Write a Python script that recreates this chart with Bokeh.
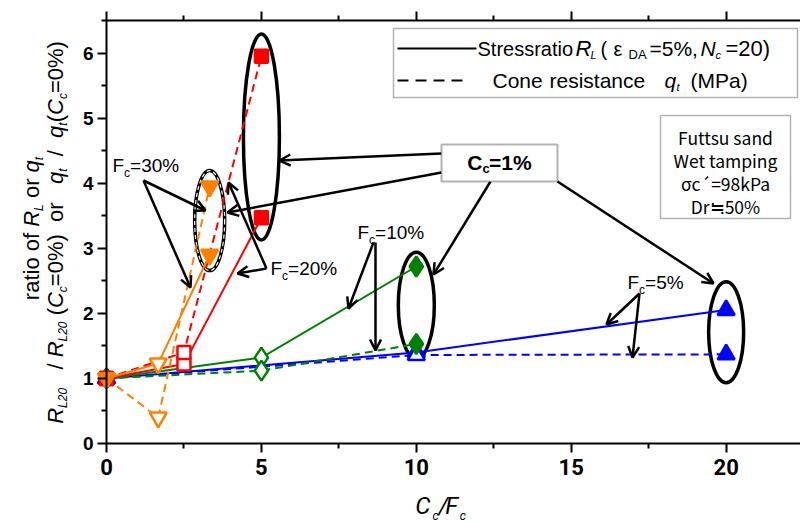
import math
from bokeh.plotting import figure
from bokeh.models import (Label, Arrow, OpenHead, Range1d, LinearAxis, FixedTicker, BoxAnnotation,
                          ColumnDataSource, CustomJSTickFormatter)
from bokeh.embed import file_html
from bokeh.resources import INLINE

# ---------------- data ----------------
series_names = ["Fc=5%", "Fc=10%", "Fc=20%", "Fc=30%"]
# x = Cc/Fc ; points at Cc = 0, 0.5 %, 1 %
x_fc5 = [0, 10, 20]
rl_fc5 = [1.0, 1.40, 2.05]
qt_fc5 = [1.0, 1.36, 1.37]

x_fc10 = [0, 5, 10]
rl_fc10 = [1.0, 1.32, 2.72]
qt_fc10 = [1.0, 1.12, 1.53]

x_fc20 = [0, 2.5, 5]
rl_fc20 = [1.0, 1.22, 3.47]
qt_fc20 = [1.0, 1.40, 5.95]

x_fc30 = [0, 1.67, 3.33]
rl_fc30 = [1.0, 1.23, 2.90]
qt_fc30 = [1.0, 0.40, 3.95]

x_ticks = [0, 5, 10, 15, 20]
x_minor = [2.5, 7.5, 12.5, 17.5, 22.5]
y_ticks = [0, 1, 2, 3, 4, 5, 6]
y_minor = [0.5, 1.5, 2.5, 3.5, 4.5, 5.5, 6.5]
X_MAX, Y_MAX = 22.4, 6.5

# ---------------- geometry: page px <-> data ----------------
W, H = 800, 522
OX, OY, SX, SY = 106, 443, 694 / 22.4, 423 / 6.5   # origin px and px per unit


def X(px):
    return (px - OX) / SX


def Y(py):
    return (OY - py) / SY


p = figure(frame_width=W, frame_height=H, min_border=0,
           x_range=Range1d(X(0), X(W)), y_range=Range1d(Y(H), Y(0)),
           output_backend="svg", toolbar_location=None)
p.outline_line_color = None
p.xgrid.visible = False
p.ygrid.visible = False
p.background_fill_color = "white"
p.border_fill_color = "white"


def style_axis(ax):
    ax.axis_line_width = 2
    ax.axis_line_color = "black"
    ax.major_tick_line_width = 2
    ax.minor_tick_line_width = 2
    ax.major_tick_in = 0
    ax.major_tick_out = 9
    ax.minor_tick_in = 0
    ax.minor_tick_out = 5
    ax.major_label_text_color = "black"


xa, ya = p.xaxis[0], p.yaxis[0]
style_axis(xa)
style_axis(ya)
xa.fixed_location = 0
xa.bounds = (0, X_MAX)
ya.fixed_location = 0
ya.bounds = (0, Y_MAX)
xa.ticker = FixedTicker(ticks=x_ticks, minor_ticks=x_minor)
ya.ticker = FixedTicker(ticks=y_ticks, minor_ticks=y_minor)
xa.major_label_text_font = "Roboto"
xa.major_label_text_font_size = "22px"
xa.major_label_text_font_style = "bold"
xa.major_label_standoff = 6
ya.major_label_text_font = "Liberation Sans"
ya.major_label_text_font_size = "19px"
ya.major_label_text_font_style = "bold"
ya.major_label_standoff = 4

top = LinearAxis(ticker=FixedTicker(ticks=x_ticks, minor_ticks=x_minor),
                 fixed_location=Y_MAX, bounds=(0, X_MAX),
                 formatter=CustomJSTickFormatter(code="return ''"))
style_axis(top)
top.major_label_standoff = 0
p.add_layout(top, "above")

# ---------------- text helper (y given = visual middle of the text) ----------------
AW = {' ': 278, 'a': 556, 'b': 556, 'c': 500, 'd': 556, 'e': 556, 'f': 278, 'g': 556, 'h': 556,
      'i': 222, 'j': 222, 'k': 500, 'l': 222, 'm': 833, 'n': 556, 'o': 556, 'p': 556, 'q': 556,
      'r': 333, 's': 500, 't': 278, 'u': 556, 'v': 500, 'w': 722, 'x': 500, 'y': 500, 'z': 500,
      'A': 667, 'C': 722, 'D': 722, 'F': 611, 'L': 556, 'M': 833, 'N': 722, 'P': 667, 'R': 722,
      'S': 667, 'W': 944, '%': 889, '=': 584, '(': 333, ')': 333, '/': 278, ',': 278, '.': 278,
      'ε': 460}


def tw(s, size):
    return sum(AW.get(ch, 556) for ch in s) * size / 1000.0


def rich(segs, x_px, y_px, angle=0.0, font="Liberation Sans", align="left", color="black"):
    total = sum(tw(sg[0], sg[1]) for sg in segs)
    pos = -total / 2 if align == "center" else 0.0
    for sg in segs:
        t, s, st, sh = sg[:4]
        if len(sg) > 4:
            pos = sg[4] - x_px
        lead = len(t) - len(t.lstrip(" "))
        txt = t.strip(" ")
        off = pos + tw(" " * lead, s)
        if txt:
            if angle == 0:
                px, py = x_px + off, y_px + sh
            else:
                px, py = x_px + sh, y_px - off
            p.add_layout(Label(x=X(px), y=Y(py), text=txt, angle=angle, text_font=font,
                               text_font_size=f"{s}px", text_font_style=st, text_color=color,
                               text_baseline="middle", text_align="left"))
        pos += tw(t, s)


# ---------------- ellipses (annotations around the Cc=1% points) ----------------
def ellipse_around(xs, a, b, w_px, h_px, dashed=False):
    cx = xs[-1]
    cy = (a[-1] + b[-1]) / 2
    p.ellipse(x=[cx], y=[cy], width=w_px / SX, height=h_px / SY, fill_color=None,
              line_color="black", line_width=3.5)
    if dashed:
        p.ellipse(x=[cx], y=[cy], width=w_px / SX, height=h_px / SY, fill_color=None,
                  line_color="white", line_width=1.2, line_dash="4 3")


ellipse_around(x_fc20, rl_fc20, qt_fc20, 36, 206)
ellipse_around(x_fc30, rl_fc30, qt_fc30, 30, 100, dashed=True)
ellipse_around(x_fc10, rl_fc10, qt_fc10, 36, 106)
ellipse_around(x_fc5, rl_fc5, qt_fc5, 35, 101)

# ---------------- data series ----------------
series = [
    (x_fc5, rl_fc5, qt_fc5, "#0000FF", "triangle", 17),
    (x_fc10, rl_fc10, qt_fc10, "#008000", "diamond", 20),
    (x_fc20, rl_fc20, qt_fc20, "#FF0000", "square", 13),
    (x_fc30, rl_fc30, qt_fc30, "#FF8000", "inverted_triangle", 17),
]
for xs, rl, qt, col, mk, sz in series:
    p.line(xs, rl, line_color=col, line_width=2)
    p.line(xs, qt, line_color=col, line_width=2, line_dash="8 5")
for xs, rl, qt, col, mk, sz in series:
    fills = [col, "white", col]
    for ys in (rl, qt):
        src = ColumnDataSource(dict(x=xs, y=ys, f=fills))
        p.scatter("x", "y", source=src, marker=mk, size=sz, fill_color="f",
                  line_color=col, line_width=2.5)


# ---------------- arrows ----------------
def arrow(x0, y0, x1, y1):
    p.add_layout(Arrow(x_start=X(x0), y_start=Y(y0), x_end=X(x1), y_end=Y(y1),
                       line_width=2.5, line_color="black",
                       end=OpenHead(size=11, line_width=2.5, line_color="black")))


arrow(441, 153, 279, 160)
arrow(441, 172, 227, 212)
arrow(490, 181, 433, 274)
arrow(557, 181, 713, 283)
arrow(143, 180, 205, 210)
arrow(143, 180, 190, 287)
arrow(266, 268, 237, 273)
arrow(266, 268, 228, 182)
arrow(373, 242, 348, 308)
arrow(375, 242, 375, 350)
arrow(639, 293, 606, 324)
arrow(639, 293, 632, 357)

# ---------------- boxes ----------------
p.add_layout(BoxAnnotation(left=X(393), right=X(797), top=Y(28), bottom=Y(97),
                           fill_color="white", fill_alpha=1, line_color="black", line_width=1.5))
p.add_layout(BoxAnnotation(left=X(660), right=X(790), top=Y(115), bottom=Y(218),
                           fill_color="white", fill_alpha=1, line_color="black", line_width=1.5))
p.add_layout(BoxAnnotation(left=X(441), right=X(557), top=Y(144), bottom=Y(181),
                           fill_color="white", fill_alpha=1, line_color="black", line_width=2))

# legend samples
p.add_layout(Arrow(x_start=X(397), y_start=Y(48), x_end=X(476), y_end=Y(48), end=None,
                   line_width=2, line_color="black"))
p.add_layout(Arrow(x_start=X(397), y_start=Y(80), x_end=X(468), y_end=Y(80), end=None,
                   line_width=2, line_color="black", line_dash="11 7"))

rich([("Stressratio", 20, "normal", 0, 477), ("R", 22, "italic", 0, 575),
      ("L", 11, "italic", 6, 590), ("(", 20, "normal", 0, 600), ("ε", 20, "normal", 0, 613),
      ("DA", 13, "normal", 6, 628), ("=5%,", 21, "normal", 0, 649),
      ("N", 21, "italic", 0, 700), ("c", 11, "italic", 6, 715),
      ("=20)", 22, "normal", 0, 725)], 477, 48)
rich([("Cone", 21, "normal", 0, 492), ("resistance", 21, "normal", 0, 549),
      ("q", 21, "italic", 0, 664), ("t", 11, "italic", 6, 676),
      ("(MPa)", 21, "normal", 0, 690)], 492, 80)

# info box
for txt, cy in (("Futtsu sand", 137), ("Wet tamping", 160), ("σc´=98kPa", 183), ("Dr≒50%", 206)):
    p.add_layout(Label(x=X(725), y=Y(cy), text=txt, text_font="Noto Sans CJK JP",
                       text_font_size="17.5px", text_align="center", text_baseline="middle",
                       text_color="black"))

# Cc=1% box text
rich([("C", 21, "bold", 0), ("c", 13, "bold", 6), ("=1%", 21, "bold", 0)], 499, 162,
     align="center")

# Fc labels
for (num, xp, yp) in (("30%", 112, 165), ("20%", 270, 268), ("10%", 357, 232), ("5%", 627, 282)):
    rich([("F", 19, "normal", 0), ("c", 12, "normal", 7), ("=" + num, 19, "normal", 0)], xp, yp)

# axis titles
rich([("C", 24, "italic", 0), ("c", 12, "italic", 10), ("/", 24, "italic", 0),
      ("F", 24, "italic", 0), ("c", 12, "italic", 10)], 440, 505, font="Roboto",
     align="center")

rich([("ratio of ", 22, "normal", 0), ("R", 22, "italic", 0), ("L", 12, "italic", 7),
      (" or ", 22, "normal", 0), ("q", 22, "italic", 0), ("t", 12, "italic", 7)],
     31, 228, angle=math.pi / 2, align="center")
rich([("R", 22, "italic", 0), ("L20", 12, "italic", 7), ("   / ", 22, "normal", 0),
      ("R", 22, "italic", 0), ("L20", 12, "italic", 7), (" (", 22, "normal", 0),
      ("C", 22, "italic", 0), ("c", 12, "italic", 7), ("=0%)", 22, "normal", 0),
      ("  or   ", 22, "normal", 0), ("q", 22, "italic", 0), ("t", 12, "italic", 7),
      ("  /  ", 22, "normal", 0), ("q", 22, "italic", 0), ("t", 12, "italic", 7),
      ("(", 22, "normal", 0), ("C", 22, "italic", 0), ("c", 12, "italic", 7),
      ("=0%)", 22, "normal", 0)],
     55, 232, angle=math.pi / 2, align="center")

open("out.html", "w").write(file_html(p, INLINE))
